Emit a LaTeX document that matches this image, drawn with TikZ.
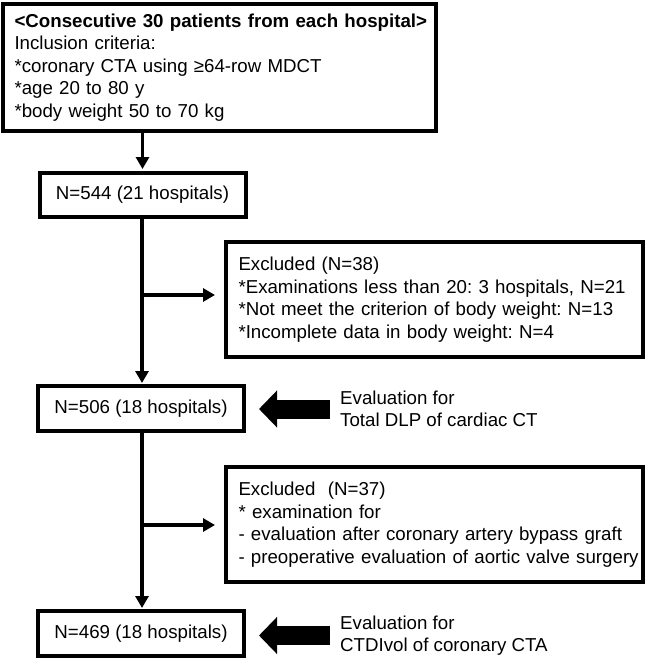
\documentclass[tikz,border=0pt]{standalone}
\usepackage{fontspec}
\setmainfont{Liberation Sans}
\usetikzlibrary{arrows.meta}
\frenchspacing
\begin{document}
\begin{tikzpicture}[x=1pt,y=-1pt,
  txt/.style={font=\fontsize{18.7}{22.5}\selectfont\frenchspacing},
  box/.style={draw,line width=4pt,txt,inner ysep=0pt,outer sep=0pt},
  nbox/.style={box,minimum width=206pt,minimum height=44pt,align=center},
  exbox/.style={box,minimum width=417pt,minimum height=115pt,text width=392pt,inner xsep=12.5pt,align=left},
  evtxt/.style={txt,align=left,inner sep=0pt,anchor=west},
  conn/.style={line width=3.5pt,-{Triangle[length=12pt,width=13pt]}},
  heavy/.style={line width=19pt,-{Triangle[length=18pt,width=36pt]}}]
\useasboundingbox (0,0) rectangle (645,658);

\node[box,minimum width=433pt,minimum height=127pt,text width=410pt,inner xsep=11.5pt,align=left] (top) at (219.5,67.5)
 {\mbox{\textbf{<Consecutive 30 patients from each hospital>}}\\
  \mbox{Inclusion criteria:}\\
  \mbox{*coronary CTA using ≥64-row MDCT}\\
  \mbox{*age 20 to 80 y}\\
  \mbox{*body weight 50 to 70 kg}};

\node[nbox] (n544) at (142.5,195) {N=544 (21 hospitals)};
\node[nbox,minimum height=45pt] (n506) at (141,408.5) {N=506 (18 hospitals)};
\node[nbox,minimum height=45pt] (n469) at (141,633.5) {N=469 (18 hospitals)};

\node[exbox] (ex1) at (434.5,299.5)
 {\mbox{Excluded (N=38)}\\
  \mbox{*Examinations less than 20: 3 hospitals, N=21}\\
  \mbox{*Not meet the criterion of body weight: N=13}\\
  \mbox{*Incomplete data in body weight: N=4}};

\node[exbox] (ex2) at (434.5,524.5)
 {\mbox{Excluded~~(N=37)}\\
  \mbox{* examination for}\\
  \mbox{- evaluation after coronary artery bypass graft}\\
  \mbox{- preoperative evaluation of aortic valve surgery}};

\node[evtxt] (ev1) at (340,409) {Evaluation for\\Total DLP of cardiac CT};
\node[evtxt] (ev2) at (340,635.5) {Evaluation for\\CTDIvol of coronary CTA};

\coordinate (b1) at (142,295);
\coordinate (b2) at (142,525);

\draw[conn,shorten >=4pt] (n544.north |- top.south) -- (n544.north);
\draw[conn,shorten >=3pt] (n544.south -| b1) -- (n506.north -| b1);
\draw[conn,shorten >=11pt] (b1) -- (ex1.west |- b1);
\draw[conn,shorten >=3pt] (n506.south -| b2) -- (n469.north -| b2);
\draw[conn,shorten >=11pt] (b2) -- (ex2.west |- b2);

\draw[heavy,shorten <=10pt,shorten >=15pt] (ev1.west) -- (n506.east |- ev1.west);
\draw[heavy,shorten <=10pt,shorten >=15pt] (ev2.west) -- (n469.east |- ev2.west);
\end{tikzpicture}
\end{document}
